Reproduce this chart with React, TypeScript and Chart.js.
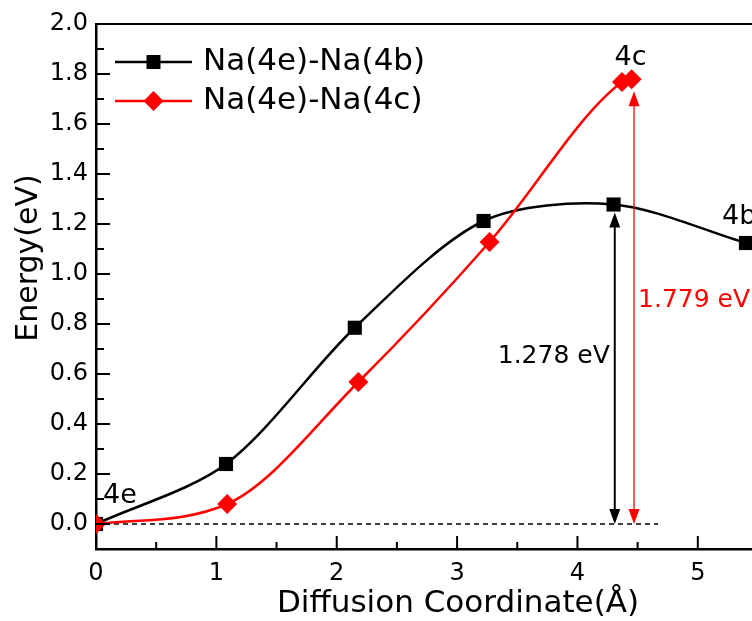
import React, { useEffect, useRef } from "react";
import { Chart, registerables } from "chart.js";

Chart.register(...registerables);

// ---- data ----
const seriesNames = ["Na(4e)-Na(4b)", "Na(4e)-Na(4c)"];
const xB = [0, 1.08, 2.15, 3.22, 4.3, 5.4];
const yB = [0, 0.24, 0.785, 1.212, 1.278, 1.124];
const xR = [0, 1.09, 2.18, 3.27, 4.37, 4.45];
const yR = [0, 0.08, 0.568, 1.128, 1.768, 1.779];

const xTicks = [0, 1, 2, 3, 4, 5];
const xMinor = [0.5, 1.5, 2.5, 3.5, 4.5];
const yTicks = [0, 0.2, 0.4, 0.6, 0.8, 1.0, 1.2, 1.4, 1.6, 1.8, 2.0];
const yMinor = [0.1, 0.3, 0.5, 0.7, 0.9, 1.1, 1.3, 1.5, 1.7, 1.9];

const barrierValues = [1.278, 1.779];
const barrierLabels = ["1.278 eV", "1.779 eV"];
const arrowX = [4.31, 4.47];
const baselineEnd = 4.67;
const siteLabels = ["4e", "4b", "4c"];

const xTitle = "Diffusion Coordinate(Å)";
const yTitle = "Energy(eV)";

const FONT = '"DejaVu Sans", sans-serif';
const RED = "#ff0000";
const BLACK = "#000000";

function drawArrow(ctx: CanvasRenderingContext2D, x: number, yTop: number, yBot: number, color: string, lw: number) {
  const hl = 15;
  const hw = 5.5;
  ctx.save();
  ctx.strokeStyle = color;
  ctx.fillStyle = color;
  ctx.lineWidth = lw;
  ctx.beginPath();
  ctx.moveTo(x, yTop + hl - 2);
  ctx.lineTo(x, yBot - hl + 2);
  ctx.stroke();
  ctx.beginPath();
  ctx.moveTo(x, yTop);
  ctx.lineTo(x - hw, yTop + hl);
  ctx.lineTo(x + hw, yTop + hl);
  ctx.closePath();
  ctx.fill();
  ctx.beginPath();
  ctx.moveTo(x, yBot);
  ctx.lineTo(x - hw, yBot - hl);
  ctx.lineTo(x + hw, yBot - hl);
  ctx.closePath();
  ctx.fill();
  ctx.restore();
}

const decor = {
  id: "decor",
  beforeDatasetsDraw(chart: any) {
    const { ctx, scales } = chart;
    const xs = scales.x;
    const ys = scales.y;
    ctx.save();
    ctx.strokeStyle = BLACK;
    ctx.lineWidth = 1.5;
    ctx.setLineDash([5, 4]);
    ctx.beginPath();
    ctx.moveTo(xs.getPixelForValue(0), ys.getPixelForValue(0));
    ctx.lineTo(xs.getPixelForValue(baselineEnd), ys.getPixelForValue(0));
    ctx.stroke();
    ctx.restore();
  },
  afterDraw(chart: any) {
    const { ctx, scales, chartArea } = chart;
    const xs = scales.x;
    const ys = scales.y;
    const { left, right, top, bottom } = chartArea;
    ctx.save();
    // top frame
    ctx.strokeStyle = BLACK;
    ctx.lineWidth = 2;
    ctx.beginPath();
    ctx.moveTo(left - 1, top);
    ctx.lineTo(right, top);
    ctx.stroke();
    // ticks (inside)
    ctx.lineWidth = 2;
    ctx.beginPath();
    yTicks.forEach((v) => {
      const p = ys.getPixelForValue(v);
      ctx.moveTo(left, p);
      ctx.lineTo(left + 14, p);
    });
    yMinor.forEach((v) => {
      const p = ys.getPixelForValue(v);
      ctx.moveTo(left, p);
      ctx.lineTo(left + 8, p);
    });
    xTicks.forEach((v) => {
      const p = xs.getPixelForValue(v);
      ctx.moveTo(p, bottom);
      ctx.lineTo(p, bottom - 13);
    });
    xMinor.forEach((v) => {
      const p = xs.getPixelForValue(v);
      ctx.moveTo(p, bottom);
      ctx.lineTo(p, bottom - 7);
    });
    ctx.stroke();

    // arrows
    const y0 = ys.getPixelForValue(0);
    const bx = xs.getPixelForValue(arrowX[0]);
    const rx = xs.getPixelForValue(arrowX[1]);
    drawArrow(ctx, bx, ys.getPixelForValue(barrierValues[0]) + 8, y0, BLACK, 2);
    drawArrow(ctx, rx, ys.getPixelForValue(barrierValues[1]) + 12, y0, RED, 1.3);

    // barrier labels
    ctx.font = `25px ${FONT}`;
    ctx.textBaseline = "alphabetic";
    ctx.fillStyle = BLACK;
    ctx.textAlign = "right";
    ctx.fillText(barrierLabels[0], bx - 5, ys.getPixelForValue(0.645));
    ctx.fillStyle = RED;
    ctx.textAlign = "left";
    ctx.fillText(barrierLabels[1], rx + 4, ys.getPixelForValue(0.868));

    // site labels
    ctx.fillStyle = BLACK;
    ctx.font = `27px ${FONT}`;
    ctx.textAlign = "left";
    ctx.fillText(siteLabels[0], xs.getPixelForValue(xB[0]) + 7, ys.getPixelForValue(yB[0]) - 21);
    ctx.fillText(siteLabels[1], xs.getPixelForValue(xB[5]) - 24, ys.getPixelForValue(yB[5]) - 19);
    ctx.textAlign = "center";
    ctx.fillText(siteLabels[2], xs.getPixelForValue(xR[5]) - 1, ys.getPixelForValue(yR[5]) - 14);

    // legend
    const items = [
      { name: seriesNames[0], color: BLACK, shape: "square", y: top + 38 },
      { name: seriesNames[1], color: RED, shape: "diamond", y: top + 77 },
    ];
    items.forEach((it) => {
      ctx.strokeStyle = it.color;
      ctx.fillStyle = it.color;
      ctx.lineWidth = 2.5;
      ctx.beginPath();
      ctx.moveTo(left + 19, it.y);
      ctx.lineTo(left + 96, it.y);
      ctx.stroke();
      const mx = left + 57.5;
      ctx.beginPath();
      if (it.shape === "square") {
        ctx.rect(mx - 7, it.y - 7, 14, 14);
      } else {
        ctx.moveTo(mx - 10, it.y);
        ctx.lineTo(mx, it.y - 10);
        ctx.lineTo(mx + 10, it.y);
        ctx.lineTo(mx, it.y + 10);
        ctx.closePath();
      }
      ctx.fill();
      ctx.fillStyle = BLACK;
      ctx.font = `31px ${FONT}`;
      ctx.textAlign = "left";
      ctx.textBaseline = "middle";
      ctx.fillText(it.name, left + 107, it.y);
    });

    // axis titles
    ctx.fillStyle = BLACK;
    ctx.font = `31px ${FONT}`;
    ctx.textAlign = "center";
    ctx.textBaseline = "alphabetic";
    ctx.fillText(xTitle, 458, 612);
    ctx.save();
    ctx.translate(29, 258);
    ctx.rotate(-Math.PI / 2);
    ctx.font = `30px ${FONT}`;
    ctx.textBaseline = "middle";
    ctx.fillText(yTitle, 0, 0);
    ctx.restore();

    ctx.restore();
  },
};

export default function App() {
  const ref = useRef<HTMLCanvasElement | null>(null);
  useEffect(() => {
    if (!ref.current) return;
    const chart = new Chart(ref.current, {
      type: "line",
      data: {
        datasets: [
          {
            label: seriesNames[0],
            data: xB.map((x, i) => ({ x, y: yB[i] })),
            borderColor: BLACK,
            backgroundColor: BLACK,
            borderWidth: 2.5,
            pointStyle: "rect",
            pointRadius: 10,
            pointBorderWidth: 0,
            tension: 0.3,
            clip: 0,
            order: 1,
          },
          {
            label: seriesNames[1],
            data: xR.map((x, i) => ({ x, y: yR[i] })),
            borderColor: RED,
            backgroundColor: RED,
            borderWidth: 2.5,
            pointStyle: "rectRot",
            pointRadius: 10,
            pointBorderWidth: 0,
            cubicInterpolationMode: "monotone",
            clip: 0,
            order: 0,
          },
        ],
      },
      options: {
        responsive: false,
        animation: false,
        layout: { padding: { top: 24, right: 22, left: 0, bottom: 0 } },
        plugins: { legend: { display: false }, tooltip: { enabled: false } },
        scales: {
          x: {
            type: "linear",
            min: 0,
            max: 5.5,
            grid: { display: false, drawTicks: false },
            border: { display: true, color: BLACK, width: 2.5 },
            afterBuildTicks: (s: any) => {
              s.ticks = xTicks.map((v) => ({ value: v }));
            },
            afterFit: (s: any) => {
              s.height = 72;
            },
            ticks: {
              padding: 10,
              color: BLACK,
              autoSkip: false,
              maxRotation: 0,
              font: { family: FONT, size: 24 },
              callback: (v: any) => String(v),
            },
          },
          y: {
            type: "linear",
            min: -0.1,
            max: 2.0,
            grid: { display: false, drawTicks: false },
            border: { display: true, color: BLACK, width: 2.5 },
            afterBuildTicks: (s: any) => {
              s.ticks = yTicks.map((v) => ({ value: v }));
            },
            afterFit: (s: any) => {
              s.width = 96;
            },
            ticks: {
              padding: 8,
              color: BLACK,
              autoSkip: false,
              font: { family: FONT, size: 24 },
              callback: (v: any) => Number(v).toFixed(1),
            },
          },
        },
      },
      plugins: [decor],
    });
    return () => chart.destroy();
  }, []);
  return (
    <div style={{ position: "fixed", left: 0, top: 0, width: 752, height: 621, overflow: "hidden", background: "#fff" }}>
      <canvas ref={ref} width={780} height={621} style={{ display: "block" }} />
    </div>
  );
}
